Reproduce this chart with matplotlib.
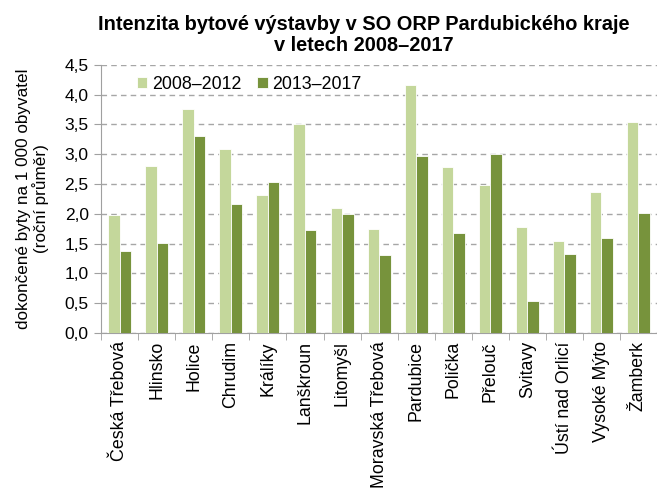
import matplotlib.pyplot as plt
import numpy as np

plt.rcParams['font.family'] = ['Liberation Sans', 'DejaVu Sans']

# Data
orp = ['Česká Třebová', 'Hlinsko', 'Holice', 'Chrudim', 'Králíky', 'Lanškroun',
       'Litomyšl', 'Moravská Třebová', 'Pardubice', 'Polička', 'Přelouč',
       'Svitavy', 'Ústí nad Orlicí', 'Vysoké Mýto', 'Žamberk']
y2008_2012 = [1.98, 2.81, 3.76, 3.08, 2.31, 3.51, 2.09, 1.75, 4.16, 2.79, 2.48, 1.78, 1.54, 2.37, 3.54]
y2013_2017 = [1.38, 1.51, 3.30, 2.17, 2.53, 1.73, 2.00, 1.31, 2.97, 1.67, 3.01, 0.54, 1.33, 1.60, 2.02]
series_labels = ['2008–2012', '2013–2017']
yticks = np.arange(0, 4.51, 0.5)

light = '#C4D79B'
dark = '#77933C'

fig = plt.figure(figsize=(6.57, 4.88), dpi=100)
ax = fig.add_axes([0.154, 0.318, 0.846, 0.549])

x = np.arange(len(orp))
w = 0.31
ax.bar(x - w / 2, y2008_2012, w, color=light, edgecolor='white', linewidth=0.6,
       label=series_labels[0], zorder=3)
ax.bar(x + w / 2, y2013_2017, w, color=dark, edgecolor='white', linewidth=0.6,
       label=series_labels[1], zorder=3)

ax.set_xlim(-0.5, len(orp) - 0.5)
ax.set_ylim(0, 4.5)
ax.set_yticks(yticks)
ax.set_yticklabels([f'{v:.1f}'.replace('.', ',') for v in yticks], fontsize=12.5)
ax.set_xticks(x)
ax.set_xticklabels(orp, rotation=90, fontsize=12.8)
ax.set_xticks(np.arange(-0.5, len(orp), 1), minor=True)
ax.tick_params(axis='x', which='major', length=0, pad=6)
ax.tick_params(axis='x', which='minor', length=5, color='#a0a0a0')
ax.tick_params(axis='y', length=5, color='#a0a0a0', pad=4)

ax.grid(axis='y', linestyle=(0, (4, 3)), color='#a6a6a6', linewidth=1, zorder=0)
for s in ['top', 'right']:
    ax.spines[s].set_visible(False)
for s in ['left', 'bottom']:
    ax.spines[s].set_color('#a0a0a0')

ax.set_ylabel('dokončené byty na 1 000 obyvatel\n(roční průměr)', fontsize=12.3,
              labelpad=11, linespacing=1.1)

ax.legend(loc='upper left', bbox_to_anchor=(0.035, 1.02), ncol=2, frameon=False,
          fontsize=12.8, handlelength=0.6, handleheight=0.6, handletextpad=0.25,
          columnspacing=0.9)

fig.suptitle('Intenzita bytové výstavby v SO ORP Pardubického kraje\nv letech 2008–2017',
             x=0.553, y=0.97, fontsize=14.4, fontweight='bold', linespacing=1.15)

fig.savefig('out.png', dpi=100)
